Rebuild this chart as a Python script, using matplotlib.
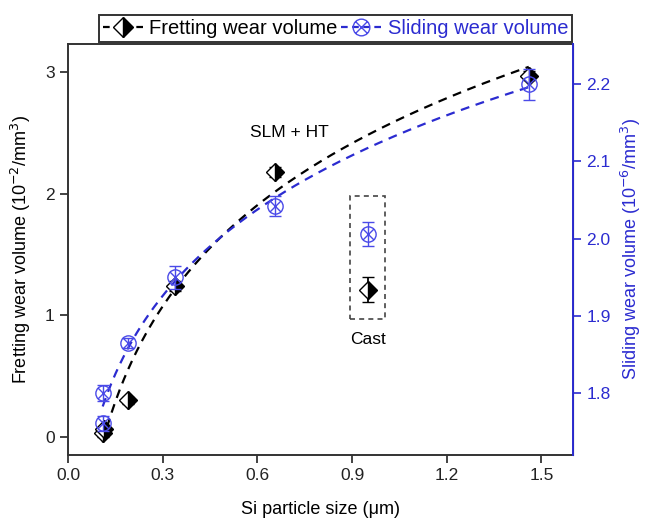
#!/usr/bin/env python3
# -*- coding: utf-8 -*-

import matplotlib
matplotlib.use('Agg')
import matplotlib.pyplot as plt
import numpy as np
from matplotlib.path import Path
from matplotlib.patches import Rectangle
from matplotlib.lines import Line2D

plt.rcParams['font.family'] = ['Liberation Sans', 'DejaVu Sans']

# SLM + HT samples
x_slm = np.array([0.11, 0.115, 0.19, 0.34, 0.655, 1.46])
fret_slm = np.array([0.03, 0.06, 0.30, 1.24, 2.18, 2.97])
fret_err = np.array([0.03, 0.03, 0.03, 0.04, 0.04, 0.04])

x_slide = np.array([0.11, 0.11, 0.19, 0.34, 0.655, 1.46])
slide_slm = np.array([1.761, 1.800, 1.865, 1.950, 2.042, 2.200])
slide_err = np.array([0.010, 0.010, 0.006, 0.015, 0.013, 0.020])

# cast sample
x_cast = 0.95
fret_cast = 1.21
fret_cast_err = 0.10
slide_cast = 2.006
slide_cast_err = 0.015

blue = '#2b2bd0'
blue_mk = '#4a4ae8'

# circle with a cross inside
circ = Path.unit_circle()
d = 0.707
cross = Path([(-d, -d), (d, d), (-d, d), (d, -d)],
             [Path.MOVETO, Path.LINETO, Path.MOVETO, Path.LINETO])
circ_x = Path.make_compound_path(circ, cross)

fig = plt.figure(figsize=(6.45, 5.27), dpi=100)
ax = fig.add_axes([0.1054, 0.1366, 0.7829, 0.7799])
ax2 = ax.twinx()

# fitted trend lines (quadratic in ln x)
xf = np.linspace(x_slm.min(), x_slm.max(), 200)
cf = np.polyfit(np.log(x_slm), fret_slm, 2)
ax.plot(xf, np.polyval(cf, np.log(xf)), color='black', ls=(0, (4, 3)), lw=1.6, zorder=3)
xs = np.linspace(x_slide.min(), x_slide.max(), 200)
cs = np.polyfit(np.log(x_slide), slide_slm, 2)
ax2.plot(xs, np.polyval(cs, np.log(xs)), color=blue, ls=(0, (4, 3)), lw=1.6, zorder=2)

# fretting points
dkw = dict(fmt='D', ms=9.5, fillstyle='right', mfc='black', mfcalt='white', mec='black',
           mew=1.0, ecolor='black', elinewidth=1.3, capsize=4.5, capthick=1.3)
ax.errorbar(x_slm, fret_slm, yerr=fret_err, zorder=4, **dkw)
ax.errorbar([x_cast], [fret_cast], yerr=[fret_cast_err], zorder=4, **dkw)

# sliding points
skw = dict(fmt='none', ecolor=blue_mk, elinewidth=1.0, capsize=4, capthick=1.0)
ax2.errorbar(x_slide, slide_slm, yerr=slide_err, **skw)
ax2.errorbar([x_cast], [slide_cast], yerr=[slide_cast_err], **skw)
ax2.plot(x_slide, slide_slm, ls='none', marker=circ_x, ms=11, mfc='none', mec=blue_mk, mew=1.0)
ax2.plot([x_cast], [slide_cast], ls='none', marker=circ_x, ms=11, mfc='none', mec=blue_mk, mew=1.0)

# cast box and labels
ax.add_patch(Rectangle((x_cast - 0.058, 0.97), 0.112, 1.01, fill=False,
                       ec='#444444', ls=(0, (3, 2.5)), lw=1.2, zorder=2))
ax.text(x_cast, 0.80, 'Cast', ha='center', va='center', fontsize=12.5)
ax.text(0.70, 2.50, 'SLM + HT', ha='center', va='center', fontsize=12.5)

ax.set_xlim(0, 1.6)
ax.set_ylim(-0.15, 3.23)
ax2.set_ylim(1.72, 2.252)
ax.set_xticks([0.0, 0.3, 0.6, 0.9, 1.2, 1.5])
ax.set_xticklabels(['0.0', '0.3', '0.6', '0.9', '1.2', '1.5'])
ax.set_yticks([0, 1, 2, 3])
ax2.set_yticks([1.8, 1.9, 2.0, 2.1, 2.2])
ax2.set_yticklabels(['1.8', '1.9', '2.0', '2.1', '2.2'])

ax.tick_params(axis='both', direction='out', length=6, width=1.2, labelsize=12.5, colors='#222222')
ax2.tick_params(axis='y', direction='out', length=6, width=1.2, labelsize=12.5,
                colors=blue, labelcolor=blue)
for s in ['left', 'bottom', 'top']:
    ax.spines[s].set_linewidth(1.4)
    ax.spines[s].set_color('#333333')
ax2.spines['right'].set_color(blue)
ax2.spines['right'].set_linewidth(1.4)
ax2.spines['top'].set_visible(False)
ax2.spines['left'].set_visible(False)
ax2.spines['bottom'].set_visible(False)

ax.set_xlabel('Si particle size (μm)', fontsize=13, labelpad=13)
ax.set_ylabel('Fretting wear volume (10$^{-2}$/mm$^{3}$)', fontsize=13, labelpad=9)
ax2.set_ylabel('Sliding wear volume (10$^{-6}$/mm$^{3}$)', fontsize=13, color=blue, labelpad=6)

# legend above the axes
h1 = Line2D([], [], color='black', ls=(0, (3, 2)), lw=1.6, marker='D', ms=10, fillstyle='right',
            mfc='black', mfcalt='white', mec='black')
h2 = Line2D([], [], color=blue, ls=(0, (3, 2)), lw=1.6, marker=circ_x, ms=12, mfc='none', mec=blue_mk)
leg = fig.legend([h1, h2], ['Fretting wear volume', 'Sliding wear volume'], ncol=2,
                 loc='center', bbox_to_anchor=(0.52, 0.946), fontsize=14.5, frameon=True,
                 fancybox=False, edgecolor='black', handlelength=2.0, handletextpad=0.3,
                 columnspacing=0.2, borderpad=0.2, borderaxespad=0)
leg.get_frame().set_linewidth(1.4)
leg.get_texts()[1].set_color(blue)

plt.savefig('out.png', dpi=100)
